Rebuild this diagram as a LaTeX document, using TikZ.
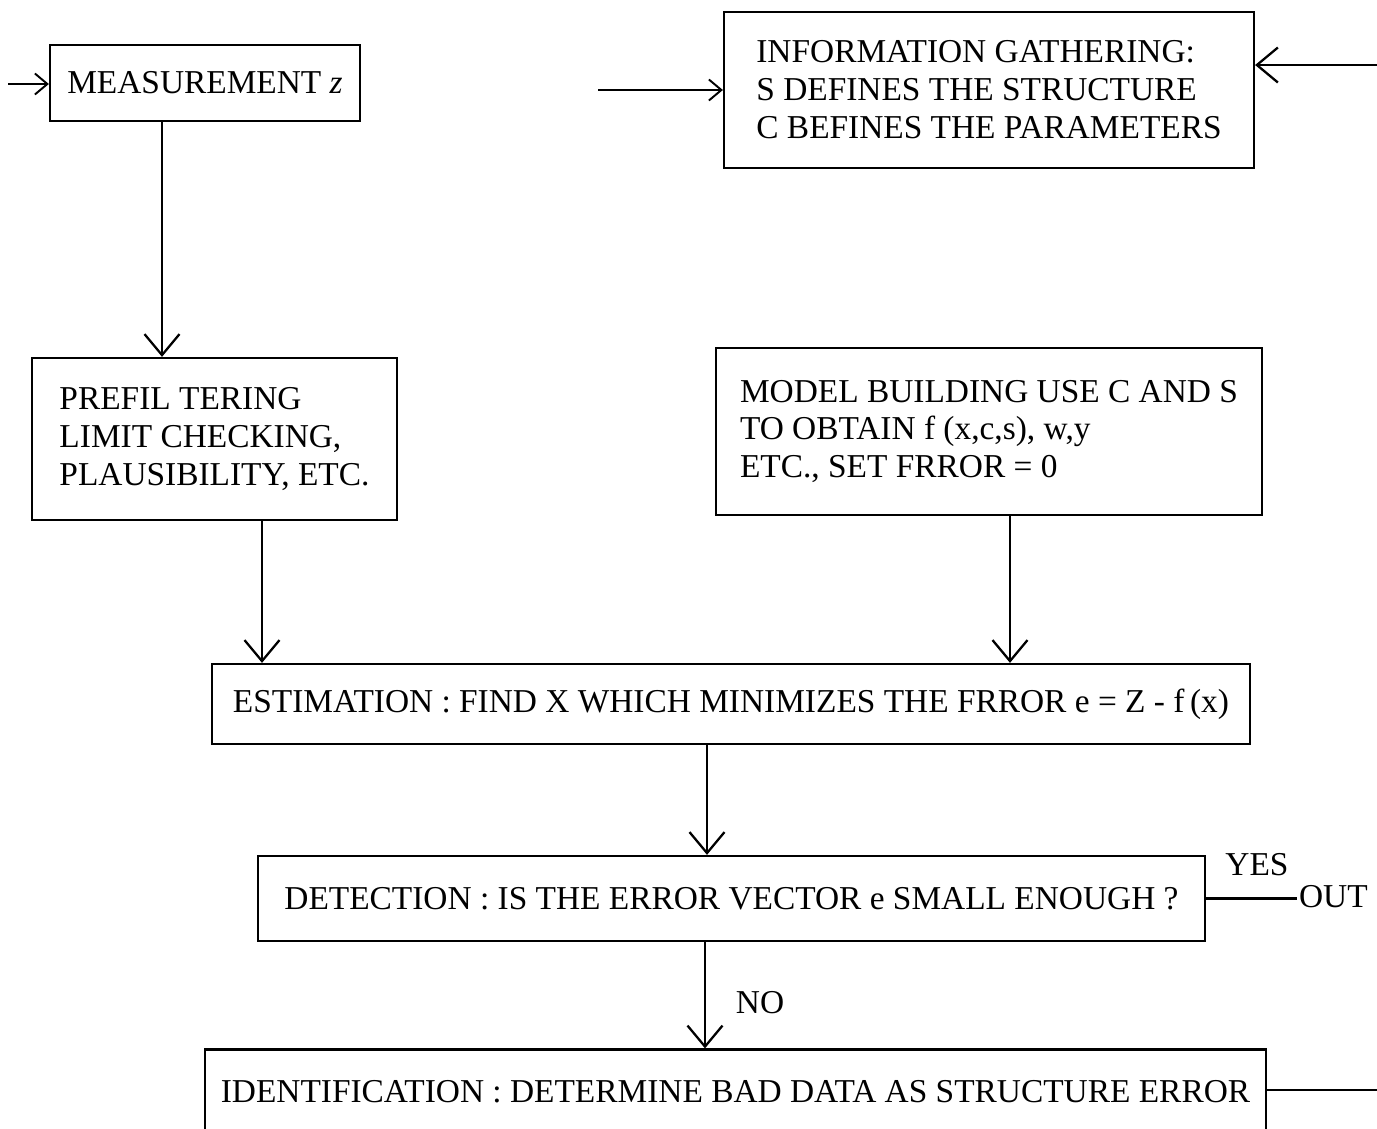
\documentclass[tikz,border=0pt]{standalone}
\usepackage{fontspec}
\setmainfont{Liberation Serif}
\newfontfamily\italicfont{Liberation Serif Italic}
\usepackage{tikz}
\usetikzlibrary{arrows.meta, calc}

\tikzset{
	block/.style = {draw, line width = 1.3pt, rectangle, align = left, inner sep = 0pt},
	arr/.style = {line width = 1.3pt, -{Straight Barb[length = 0.42cm, width = 0.7cm, line width = 1.3pt]}},
	smallarr/.style = {line width = 1.1pt, -{Straight Barb[length = 0.25cm, width = 0.42cm, line width = 1.1pt]}},
	plain/.style = {line width = 1.3pt}
}

\begin{document}
\begin{tikzpicture}[x = 0.02cm, y = -0.02cm, font = \fontsize{19}{21.6}\selectfont]
					\def\W{1377};
					\def\H{1129};
					\def\xMeas{162};
					\def\xPre{262};
					\def\xMod{1010};
					\def\xEst{707};
					\def\xDet{705};

					\useasboundingbox (0,0) rectangle (\W,\H);
					\clip (0,0) rectangle (\W,\H);

					\begin{scope}
						\node [block, minimum width = 6.2cm, minimum height = 1.52cm] (meas) at (205,83) {MEASUREMENT {\italicfont z}};
						\node [block, minimum width = 10.6cm, minimum height = 3.12cm] (info) at (989,90)
							{INFORMATION GATHERING:\\S DEFINES THE STRUCTURE\\C BEFINES THE PARAMETERS};
					\end{scope}

					\begin{scope}
						\node [block, minimum width = 7.3cm, minimum height = 3.24cm] (pre) at (214.5,439)
							{PREFIL TERING\\LIMIT CHECKING,\\PLAUSIBILITY, ETC.};
						\node [block, minimum width = 10.92cm, minimum height = 3.34cm] (mod) at (989,431.5)
							{MODEL BUILDING USE C AND S\\TO OBTAIN f (x,c,s), w,y\\ETC., SET FRROR = 0};
					\end{scope}

					\begin{scope}
						\node [block, minimum width = 20.76cm, minimum height = 1.6cm] (est) at (731,704)
							{ESTIMATION : FIND X WHICH MINIMIZES THE FRROR e = Z - f\,(x)};
						\node [block, minimum width = 18.94cm, minimum height = 1.7cm] (det) at (731.5,898.5)
							{DETECTION : IS THE ERROR VECTOR e SMALL ENOUGH ?};
						\node [block, minimum width = 21.22cm, minimum height = 1.7cm] (ide) at (735.5,1092)
							{IDENTIFICATION : DETERMINE BAD DATA AS STRUCTURE ERROR};
					\end{scope}

					\begin{scope}
						\node (yes) at (1257,865) {YES};
						\node [anchor = west, inner sep = 1pt] (out) at (1297,897) {OUT};
						\node (no) at (760,1003) {NO};
					\end{scope}

					% free ends
					\coordinate (inMeas) at (8,84);
					\coordinate (inInfoL) at (598,90);
					\coordinate (inInfoR) at (\W,65);
					\coordinate (outIde) at (\W,1090);

					\begin{scope}
						\draw [smallarr] (inMeas) -- (meas.west |- inMeas);
						\draw [smallarr] (inInfoL) -- (info.west |- inInfoL);
						\draw [arr] (inInfoR) -- (info.east |- inInfoR);
						\draw [arr] (meas.south -| \xMeas,0) -- (pre.north -| \xMeas,0);
						\draw [arr] (pre.south -| \xPre,0) -- (est.north -| \xPre,0);
						\draw [arr] (mod.south -| \xMod,0) -- (est.north -| \xMod,0);
						\draw [arr] (est.south -| \xEst,0) -- (det.north -| \xEst,0);
						\draw [arr] (det.south -| \xDet,0) -- (ide.north -| \xDet,0);
						\draw [plain] (det.east) -- (det.east -| out.west);
						\draw [plain] (ide.east |- outIde) -- (outIde);
					\end{scope}
				\end{tikzpicture}
\end{document}
